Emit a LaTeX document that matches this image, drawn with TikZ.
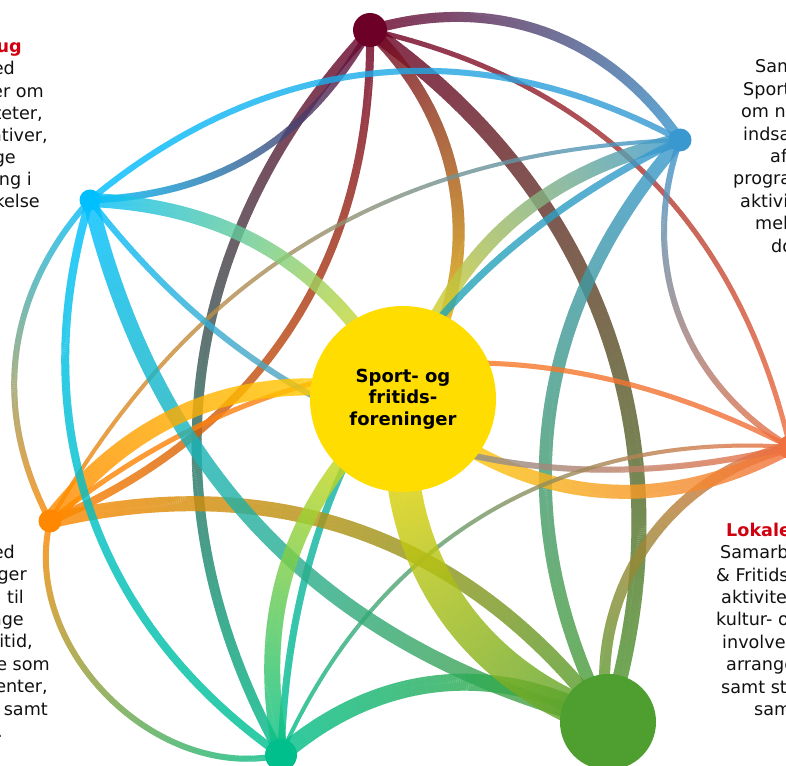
\documentclass[tikz,border=0pt]{standalone}
\usepackage{fontspec}
\setmainfont{DejaVu Sans}
\usetikzlibrary{decorations.markings}
\definecolor{cM}{HTML}{6D0026}
\definecolor{cB}{HTML}{3A98D0}
\definecolor{cR}{HTML}{F07040}
\definecolor{cG}{HTML}{4E9E30}
\definecolor{cT}{HTML}{00BF8C}
\definecolor{cO}{HTML}{FF8800}
\definecolor{cC}{HTML}{00BFFF}
\definecolor{cY}{HTML}{FFDD00}
\definecolor{tred}{HTML}{D00010}
\definecolor{tblk}{HTML}{111111}
\pgfdeclarelayer{bg}
\pgfsetlayers{bg,main}
\tikzset{
  gradline/.style n args={3}{
    decoration={markings,
      mark=between positions 0 and 1 step 2pt with {%
        \pgfmathsetmacro\gpct{(\pgfkeysvalueof{/pgf/decoration/mark info/distance from start}/\pgfdecoratedpathlength)*100}%
        \colorlet{gtmp}{#2!\gpct!#1}%
        \fill[gtmp] (-1.2pt,-#3pt/2) rectangle (1.2pt,#3pt/2);
      }},
    postaction={decorate}},
  hub/.style={circle, inner sep=0pt},
  lbl/.style={inner sep=0pt, font=\fontsize{17.6}{22}\selectfont, text=tblk},
  ttl/.style={inner sep=0pt, font=\fontsize{17.6}{22}\selectfont\bfseries, text=tred},
}
\newcommand\gedge[4]{%
  \begin{scope}[transparency group, opacity=0.82]
    \path[gradline={c#1}{c#2}{#3}] (#1.center) to[#4] (#2.center);
  \end{scope}}
\begin{document}
\begin{tikzpicture}[x=1pt,y=1pt]
\useasboundingbox (0,0) rectangle (786,765);
% hubs
\node[hub, fill=cM, minimum size=34pt] (M) at (370,735) {};
\node[hub, fill=cB, minimum size=23pt] (B) at (680,625) {};
\node[hub, fill=cR, minimum size=24pt] (R) at (790,318) {};
\node[hub, fill=cG, minimum size=96pt] (G) at (608,43) {};
\node[hub, fill=cT, minimum size=32pt] (T) at (281,10) {};
\node[hub, fill=cO, minimum size=23pt] (O) at (50,244) {};
\node[hub, fill=cC, minimum size=21pt] (C) at (90,565) {};
\node[hub, fill=cY, minimum size=186pt, align=center,
      font=\fontsize{18}{21.5}\selectfont\bfseries, text=black] (Y) at (403,366)
      {Sport- og\\fritids-\\foreninger};
% connectors
\begin{pgfonlayer}{bg}
\gedge{M}{B}{10}{bend left=36}
\gedge{M}{R}{5}{bend left=32}
\gedge{M}{G}{15}{bend left=36}
\gedge{M}{Y}{12}{bend left=41}
\gedge{M}{T}{10}{bend right=36}
\gedge{M}{O}{8}{bend left=34}
\gedge{M}{C}{7}{bend left=29}
\gedge{B}{C}{6}{bend right=34}
\gedge{B}{O}{4}{bend right=29}
\gedge{B}{Y}{14}{bend right=30}
\gedge{B}{T}{7}{bend right=31}
\gedge{B}{G}{13}{bend right=34}
\gedge{B}{R}{6}{bend right=39}
\gedge{R}{O}{5}{bend right=33}
\gedge{R}{G}{11}{bend right=43}
\gedge{R}{Y}{14}{bend left=36}
\gedge{R}{C}{6}{bend left=33}
\gedge{R}{T}{4}{bend right=35}
\gedge{O}{G}{15}{bend left=33}
\gedge{C}{G}{15}{bend right=31}
\gedge{T}{G}{17}{bend left=35}
\gedge{Y}{G}{33}{bend right=39}
\gedge{Y}{T}{16}{bend right=30}
\gedge{O}{T}{6}{bend right=58}
\gedge{O}{Y}{17}{bend left=33}
\gedge{O}{C}{6}{bend left=35}
\gedge{C}{Y}{14}{bend left=30}
\gedge{C}{T}{8}{bend right=36}
\end{pgfonlayer}
% texts top left
\node[ttl, anchor=base east] (tl0) at (22,712) {ug};
\node[lbl, anchor=base east] (tl1) at (15,690) {ed};
\node[lbl, anchor=base east] (tl2) at (44,667.5) {er om};
\node[lbl, anchor=base east] (tl3) at (43,645.3) {teter,};
\node[lbl, anchor=base east] (tl4) at (48,623) {ativer,};
\node[lbl, anchor=base east] (tl5) at (16,601) {ge};
\node[lbl, anchor=base east] (tl6) at (32,579) {ng i};
\node[lbl, anchor=base east] (tl7) at (40,557) {kelse};
% texts bottom left
\node[lbl, anchor=base east] (bl1) at (15,206) {ed};
\node[lbl, anchor=base east] (bl2) at (27,184) {ger};
\node[lbl, anchor=base east] (bl3) at (24,161.5) {n til};
\node[lbl, anchor=base east] (bl4) at (24,139) {nge};
\node[lbl, anchor=base east] (bl5) at (33,117) {itid,};
\node[lbl, anchor=base east] (bl6) at (50,95) {e som};
\node[lbl, anchor=base east] (bl7) at (48,72.5) {enter,};
\node[lbl, anchor=base east] (bl8) at (48,50) {samt};
\node[lbl, anchor=base east] (bl9) at (3,28) {.};
% texts top right
\node[lbl, anchor=base west] (tr1) at (755,692) {Sam};
\node[lbl, anchor=base west] (tr2) at (743,669.6) {Sport};
\node[lbl, anchor=base west] (tr3) at (741,647.2) {om n};
\node[lbl, anchor=base west] (tr4) at (743,624.8) {indsa};
\node[lbl, anchor=base west] (tr5) at (770,602.4) {af};
\node[lbl, anchor=base west] (tr6) at (733,580) {progra};
\node[lbl, anchor=base west] (tr7) at (740,557.6) {aktivi};
\node[lbl, anchor=base west] (tr8) at (755,535.2) {mel};
\node[lbl, anchor=base west] (tr9) at (771,512.8) {do};
% texts bottom right
\node[ttl, anchor=base west] (br0) at (726,228) {Lokale};
\node[lbl, anchor=base west] (br1) at (720,206) {Samarb};
\node[lbl, anchor=base west] (br2) at (716,183) {\& Fritids};
\node[lbl, anchor=base west] (br3) at (721,161) {aktivite};
\node[lbl, anchor=base west] (br4) at (716,139) {kultur- o};
\node[lbl, anchor=base west] (br5) at (722,116) {involve};
\node[lbl, anchor=base west] (br6) at (726,94) {arrange};
\node[lbl, anchor=base west] (br7) at (721,72) {samt st};
\node[lbl, anchor=base west] (br8) at (754,50) {sam};
\end{tikzpicture}
\end{document}
